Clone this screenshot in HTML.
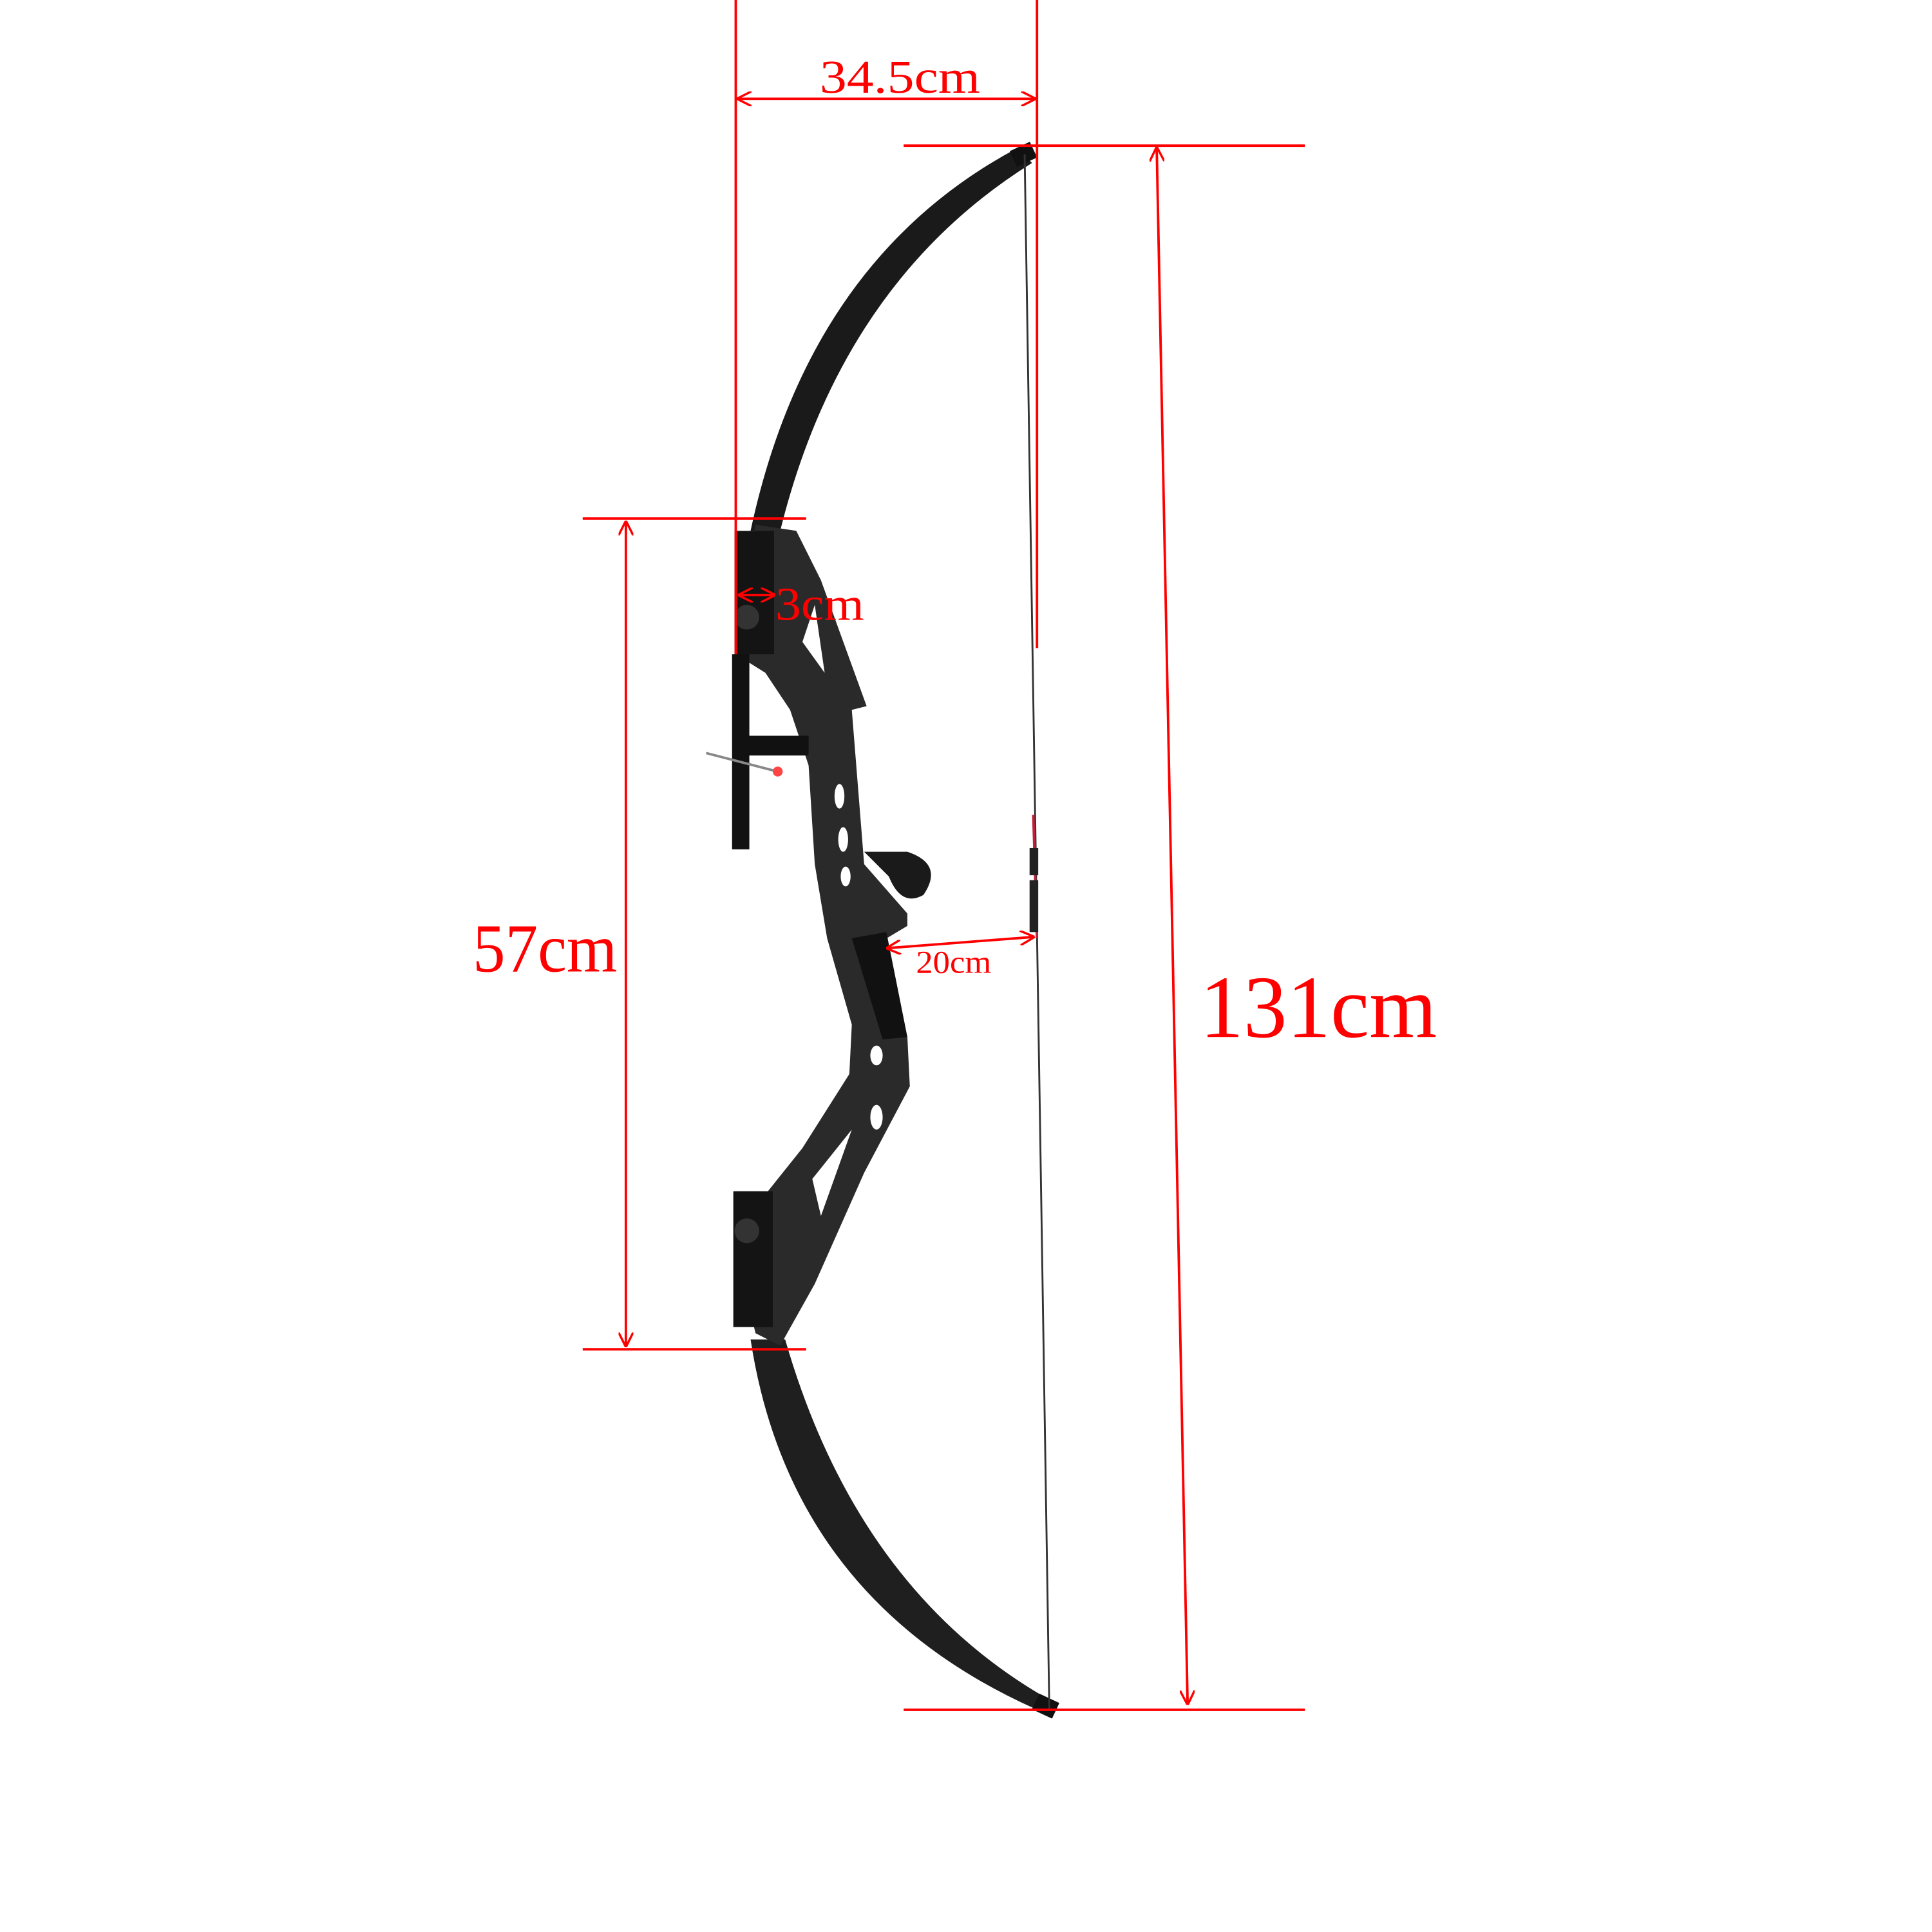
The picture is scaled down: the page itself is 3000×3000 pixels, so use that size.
<!DOCTYPE html>
<html><head><meta charset="utf-8"><style>
html,body{margin:0;padding:0;background:#fff;}
svg{display:block;}
text{font-family:"Liberation Serif",serif;fill:#f00;}
</style></head><body>
<svg width="3000" height="3000" viewBox="0 0 1565 1565">
<defs>
<marker id="ah" viewBox="0 0 10 10" refX="9" refY="5" markerWidth="6" markerHeight="6" orient="auto-start-reverse"><path d="M0,0 L10,5 L0,10" fill="none" stroke="#f00" stroke-width="1.5"/></marker>
</defs>
<g>
<path d="M824,120 Q655,210 608,430 L632,430 Q682,228 836,132 Z" fill="#1a1a1a"/>
<rect x="820" y="118" width="18" height="14" fill="#111" transform="rotate(-25 829 125)"/>
<path d="M608,1085 Q640,1295 838,1384 L852,1378 Q695,1290 636,1085 Z" fill="#1f1f1f"/>
<rect x="838" y="1375" width="18" height="14" fill="#111" transform="rotate(25 847 1382)"/>
<path d="M830,125 L850,1385" stroke="#333" stroke-width="1.5" fill="none"/>
<path d="M837,660 L840,760" stroke="#c0203a" stroke-width="2"/>
<rect x="834" y="687" width="7" height="22" fill="#222"/>
<rect x="834" y="713" width="7" height="42" fill="#222"/>
<path d="M612,425 L645,430 L665,470 L702,572 L690,575 L700,700 L735,740 L735,750 L715,762 L735,840 L737,880 L700,950 L660,1040 L632,1090 L612,1080 L595,1010 L595,965 L622,965 L650,930 L688,870 L690,830 L670,760 L660,700 L655,620 L640,575 L620,545 L596,530 Z" fill="#2a2a2a"/>
<path d="M690,760 L718,755 L735,840 L715,842 Z" fill="#111"/>
<rect x="595" y="430" width="32" height="100" fill="#141414"/>
<rect x="594" y="965" width="32" height="110" fill="#141414"/>
<circle cx="605" cy="500" r="10" fill="#333"/><circle cx="605" cy="997" r="10" fill="#333"/>
<rect x="593" y="530" width="14" height="158" fill="#111"/>
<rect x="605" y="596" width="50" height="16" fill="#111"/>
<line x1="572" y1="610" x2="630" y2="625" stroke="#888" stroke-width="2"/>
<circle cx="630" cy="625" r="4" fill="#f44"/>
<path d="M700,690 L735,690 Q765,700 748,725 Q730,735 720,710 Z" fill="#1a1a1a"/>
<g fill="#fff">
<ellipse cx="680" cy="645" rx="4" ry="10"/><ellipse cx="683" cy="680" rx="4" ry="10"/><ellipse cx="685" cy="710" rx="4" ry="8"/>
<ellipse cx="710" cy="855" rx="5" ry="8"/><ellipse cx="710" cy="905" rx="5" ry="10"/>
<path d="M658,955 L690,915 L665,985 Z"/><path d="M650,520 L660,490 L668,545 Z"/>
</g>
</g>
<g stroke="#f00" stroke-width="2" fill="none">
<line x1="596" y1="0" x2="596" y2="530"/>
<line x1="840" y1="0" x2="840" y2="525"/>
<line x1="598" y1="80" x2="838" y2="80" marker-start="url(#ah)" marker-end="url(#ah)"/>
<line x1="732" y1="118" x2="1057" y2="118"/>
<line x1="732" y1="1385" x2="1057" y2="1385"/>
<line x1="937" y1="120" x2="962" y2="1380" marker-start="url(#ah)" marker-end="url(#ah)"/>
<line x1="472" y1="420" x2="653" y2="420"/>
<line x1="472" y1="1093" x2="653" y2="1093"/>
<line x1="507" y1="423" x2="507" y2="1090" marker-start="url(#ah)" marker-end="url(#ah)"/>
<line x1="599" y1="482" x2="627" y2="482" marker-start="url(#ah)" marker-end="url(#ah)"/>
<line x1="719" y1="768" x2="837" y2="759" marker-start="url(#ah)" marker-end="url(#ah)"/>
</g>
<text x="664" y="75" font-size="38" textLength="130" lengthAdjust="spacingAndGlyphs">34.5cm</text>
<text x="972" y="840" font-size="72" textLength="192" lengthAdjust="spacingAndGlyphs">131cm</text>
<text x="383" y="787" font-size="56" textLength="117" lengthAdjust="spacingAndGlyphs">57cm</text>
<text x="628" y="502" font-size="38" textLength="72" lengthAdjust="spacingAndGlyphs">3cm</text>
<text x="742" y="788" font-size="26" textLength="61" lengthAdjust="spacingAndGlyphs">20cm</text>
</svg>
</body></html>
